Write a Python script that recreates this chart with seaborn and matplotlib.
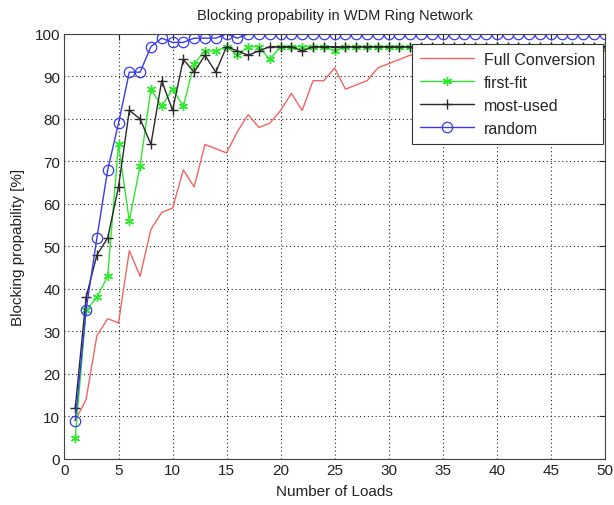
import numpy as np
import pandas as pd
import matplotlib
matplotlib.use("Agg")
import matplotlib.pyplot as plt
import seaborn as sns

loads = list(range(1, 51))
full_conversion = [9, 14, 29, 33, 32, 49, 43, 54, 58, 59,
                   68, 64, 74, 73, 72, 77, 81, 78, 79, 82,
                   86, 82, 89, 89, 92, 87, 88, 89, 92, 93,
                   94, 95, 95, 96, 95, 96, 96, 97, 96, 96,
                   97, 96, 97, 96, 97, 96, 96, 97, 96, 96]
first_fit = [5, 35, 38, 43, 74, 56, 69, 87, 83, 87,
             83, 93, 96, 96, 97, 95, 97, 97, 94, 97,
             97, 97, 97, 97, 96, 97, 97, 97, 97, 97,
             97, 97, 97, 97, 97, 97, 97, 97, 97, 97,
             97, 97, 97, 97, 97, 97, 97, 97, 97, 97]
most_used = [12, 38, 48, 52, 64, 82, 80, 74, 89, 82,
             94, 91, 95, 91, 97, 96, 95, 96, 97, 97,
             97, 96, 97, 97, 97, 97, 97, 97, 97, 97,
             97, 97, 97, 97, 97, 97, 97, 97, 97, 97,
             97, 97, 97, 97, 97, 97, 97, 97, 97, 97]
random_ = [9, 35, 52, 68, 79, 91, 91, 97, 99, 98,
           98, 99, 99, 99, 100, 99, 100, 100, 100, 100,
           100, 100, 100, 100, 100, 100, 100, 100, 100, 100,
           100, 100, 100, 100, 100, 100, 100, 100, 100, 100,
           100, 100, 100, 100, 100, 100, 100, 100, 100, 100]

series_names = ["Full Conversion", "first-fit", "most-used", "random"]
x_ticks = list(range(0, 51, 5))
y_ticks = list(range(0, 101, 10))

sns.set_style("white")
plt.rcParams["font.family"] = ["Liberation Sans", "DejaVu Sans"]

fig = plt.figure(figsize=(6.14, 5.06), dpi=100)
ax = fig.add_axes([0.105, 0.091, 0.880, 0.840])

df = pd.DataFrame({"x": loads, "Full Conversion": full_conversion,
                   "first-fit": first_fit, "most-used": most_used,
                   "random": random_})

styles = {
    "Full Conversion": dict(color="#f06464", marker=None),
    "first-fit": dict(color="#2ee82e", marker=(6, 2, 0), markersize=6.5,
                      markeredgewidth=1.0),
    "most-used": dict(color="#2a2a2a", marker="+", markersize=7,
                      markeredgewidth=1.0),
    "random": dict(color="#3a3aee", marker="o", markersize=7.5,
                   markerfacecolor="none", markeredgewidth=0.9),
}

for name in series_names:
    st = styles[name]
    kw = dict(st)
    color = kw.pop("color")
    marker = kw.pop("marker")
    if marker is None:
        sns.lineplot(data=df, x="x", y=name, ax=ax, color=color, lw=1.0,
                     label=name)
    else:
        mfc = kw.pop("markerfacecolor", color)
        sns.lineplot(data=df, x="x", y=name, ax=ax, color=color, lw=1.0,
                     marker=marker, markerfacecolor=mfc,
                     markeredgecolor=color, label=name, **kw)

ax.set_xlim(0, 50)
ax.set_ylim(0, 100)
ax.set_xticks(x_ticks)
ax.set_yticks(y_ticks)
ax.grid(True, color="#222222", linestyle=(0, (1, 2.5)), linewidth=0.8)
for s in ax.spines.values():
    s.set_color("#444444")
    s.set_linewidth(0.8)
ax.tick_params(direction="in", length=4, top=True, right=True,
               labelsize=11, colors="#222222", width=0.8, pad=3)
ax.set_title("Blocking propability in WDM Ring Network", fontsize=10.5,
             color="#222222", pad=11)
ax.set_xlabel("Number of Loads", fontsize=11, color="#222222", labelpad=5)
ax.set_ylabel("Blocking propability [%]", fontsize=11, color="#222222",
              labelpad=7)

leg = ax.legend(loc="upper right", bbox_to_anchor=(0.997, 0.977),
                fontsize=11.5, frameon=True, fancybox=False, framealpha=1,
                edgecolor="#333333", borderpad=0.5, handlelength=3.4,
                labelspacing=0.5, borderaxespad=0, handletextpad=0.6)
leg.get_frame().set_linewidth(0.8)

fig.savefig("out.png", dpi=100)
